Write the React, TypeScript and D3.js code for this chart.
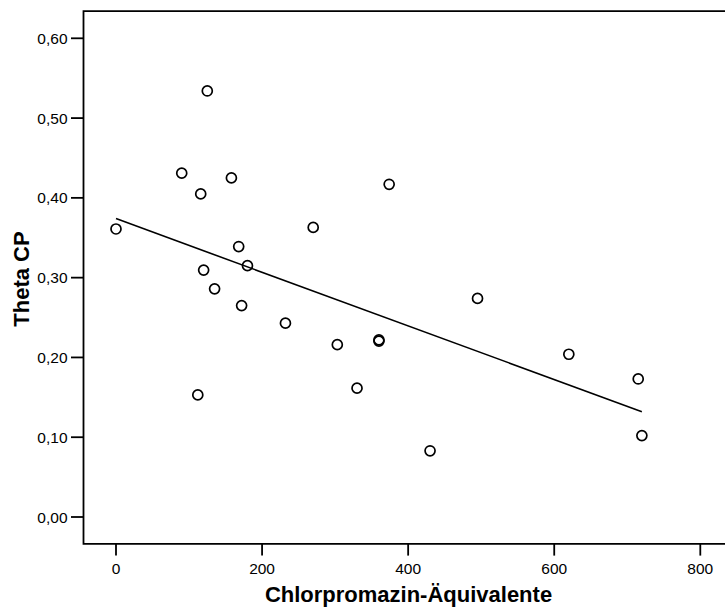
import React from "react";
import * as d3 from "d3";

const xValues: number[] = [0, 90, 125, 116, 158, 168, 120, 135, 180, 172, 112, 232, 303, 270, 374, 360, 360, 330, 430, 495, 620, 715, 720];
const yValues: number[] = [0.361, 0.431, 0.534, 0.405, 0.425, 0.339, 0.3095, 0.286, 0.315, 0.265, 0.153, 0.243, 0.216, 0.363, 0.417, 0.222, 0.2205, 0.1615, 0.083, 0.274, 0.204, 0.173, 0.102];
const fitX: number[] = [0, 720];
const fitY: number[] = [0.374, 0.132];
const xTicks: number[] = [0, 200, 400, 600, 800];
const yTicks: number[] = [0, 0.1, 0.2, 0.3, 0.4, 0.5, 0.6];
const xTitle = "Chlorpromazin-Äquivalente";
const yTitle = "Theta CP";

const W = 725;
const H = 609;
const frameLeft = 83.5;
const frameTop = 11.2;
const frameBottom = 543.8;
const frameRight = 726;

export default function App() {
  const x = d3.scaleLinear().domain([0, 800]).range([116, 700.3]);
  const y = d3.scaleLinear().domain([0, 0.6]).range([517, 38.3]);
  const fmtY = (v: number) => d3.format(".2f")(v).replace(".", ",");
  const line = d3
    .line<number>()
    .x((_, i) => x(fitX[i]))
    .y((d) => y(d));
  const font = "'Liberation Sans', Arial, sans-serif";
  return (
    <svg
      width={W}
      height={H}
      style={{ position: "absolute", left: 0, top: 0, background: "#fff" }}
      fontFamily={font}
    >
      <rect x={0} y={0} width={W} height={H} fill="#fff" />
      {/* frame */}
      <path
        d={`M${frameRight},${frameTop}H${frameLeft}V${frameBottom}H${frameRight}`}
        fill="none"
        stroke="#000"
        strokeWidth={1.8}
      />
      {/* y ticks */}
      {yTicks.map((t) => (
        <g key={"y" + t}>
          <line x1={71} x2={frameLeft} y1={y(t)} y2={y(t)} stroke="#000" strokeWidth={1.8} />
          <text x={67.5} y={y(t)} dy="0.36em" textAnchor="end" fontSize={15.5} fill="#000">
            {fmtY(t)}
          </text>
        </g>
      ))}
      {/* x ticks */}
      {xTicks.map((t) => (
        <g key={"x" + t}>
          <line x1={x(t)} x2={x(t)} y1={frameBottom} y2={555.6} stroke="#000" strokeWidth={1.8} />
          <text x={x(t)} y={574} textAnchor="middle" fontSize={15.5} fill="#000">
            {t}
          </text>
        </g>
      ))}
      {/* fit line */}
      <path d={line(fitY) || ""} fill="none" stroke="#000" strokeWidth={1.6} />
      {/* points */}
      {xValues.map((xv, i) => (
        <circle
          key={i}
          cx={x(xv)}
          cy={y(yValues[i])}
          r={5}
          fill="none"
          stroke="#000"
          strokeWidth={1.7}
        />
      ))}
      {/* titles */}
      <text x={408.5} y={602} textAnchor="middle" fontSize={22} fontWeight="bold" fill="#000">
        {xTitle}
      </text>
      <text
        transform={`translate(28.5,279) rotate(-90)`}
        textAnchor="middle"
        fontSize={22}
        fontWeight="bold"
        fill="#000"
      >
        {yTitle}
      </text>
    </svg>
  );
}
